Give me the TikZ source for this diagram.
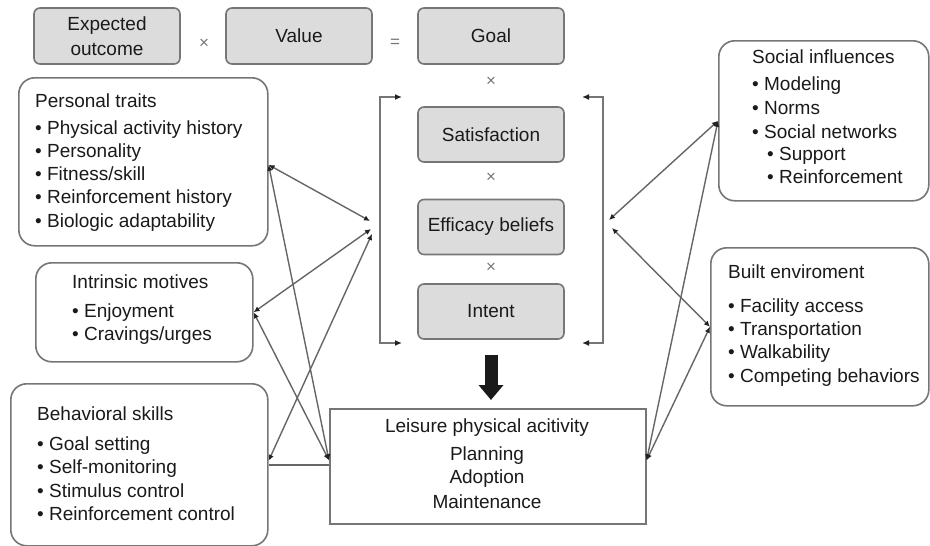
\documentclass[tikz,border=0pt]{standalone}
\usepackage{fontspec}
\setmainfont{Liberation Sans}
\usetikzlibrary{arrows.meta}
\definecolor{edge}{HTML}{767676}
\definecolor{wire}{HTML}{666666}
\definecolor{tipc}{HTML}{222222}
\definecolor{ink}{HTML}{1A1A1A}
\definecolor{shade}{HTML}{DCDCDC}
\definecolor{heavy}{HTML}{1A1A1A}

\begin{document}
\begin{tikzpicture}[x=1pt,y=-1pt,
  every node/.style={text=ink, font=\fontsize{19}{25}\selectfont},
  factorbox/.style={draw=edge, line width=1.6pt, fill=shade, rounded corners=6pt,
    minimum width=146pt, minimum height=55pt, inner sep=0pt, align=center},
  groupbox/.style={draw=edge, line width=1.6pt, rounded corners=16pt, inner sep=0pt,
    anchor=north west},
  plainbox/.style={draw=edge, line width=1.6pt, inner sep=0pt, anchor=north west},
  item/.style={text height=15pt, text depth=4pt, inner sep=0pt, anchor=west},
  centred/.style={text height=15pt, text depth=4pt, inner sep=0pt, anchor=center},
  op/.style={inner sep=0pt, text=edge, font=\fontsize{17}{17}\selectfont},
  link/.style={draw=wire, line width=1.4pt,
    {Latex[length=6pt,width=5.5pt,color=tipc]}-{Latex[length=6pt,width=5.5pt,color=tipc]}},
  bracket/.style={draw=edge, line width=1.6pt,
    {Latex[length=7pt,width=6pt,color=tipc]}-{Latex[length=7pt,width=6pt,color=tipc]}},
  bigarrow/.style={draw=heavy, line width=13pt, -{Triangle[length=15pt,width=24pt]}}
]
\fill[white] (0,0) rectangle (930,546);
\useasboundingbox (0,0) rectangle (930,546);

% expectancy x value = goal
\node[factorbox, minimum height=56pt] (eo) at (107,36) {Expected\\outcome};
\node[op] (m1) at (204,44) {×};
\node[factorbox, minimum height=56pt] (va) at (299,36) {Value};
\node[op] (eq) at (395,43) {=};
\node[factorbox, minimum height=56pt] (go) at (491,36) {Goal};

% central column of multiplied factors
\node[op] (m2) at (491,82) {×};
\node[factorbox] (sa) at (491,134.5) {Satisfaction};
\node[op] (m3) at (491,178) {×};
\node[factorbox] (ef) at (491,227) {Efficacy beliefs};
\node[op] (m4) at (491,268) {×};
\node[factorbox] (in) at (491,311.5) {Intent};

% brackets around the column
\coordinate (lbt) at (380,97);
\coordinate (lbb) at (380,343);
\coordinate (rbt) at (603,97);
\coordinate (rbb) at (603,343);
\draw[bracket] ([xshift=22pt]lbt) -- (lbt) -- (lbb) -- ([xshift=22pt]lbb);
\draw[bracket] ([xshift=-21pt]rbt) -- (rbt) -- (rbb) -- ([xshift=-21pt]rbb);
\coordinate (bl1) at (370,221);
\coordinate (bl2) at (371,229);
\coordinate (bl3) at (372,234);
\coordinate (br1) at (609,220);
\coordinate (br2) at (612,228);

% outcome box
\node[plainbox, minimum width=316pt, minimum height=115pt] (lpa) at (329,408) {};
\node[centred] (lpa0) at (487,427) {Leisure physical acitivity};
\node[centred] (lpa1) at (487,455) {Planning};
\node[centred] (lpa2) at (487,478) {Adoption};
\node[centred] (lpa3) at (487,503) {Maintenance};

\draw[bigarrow] ([yshift=-15pt]in.south) -- ([yshift=8pt]in.south |- lpa.north);

% personal traits
\node[groupbox, minimum width=249pt, minimum height=168pt] (pt) at (18,77) {};
\node[item] (pt0) at (35,102) {Personal traits};
\node[item] (pt1) at (35,129) {• Physical activity history};
\node[item] (pt2) at (35,152) {• Personality};
\node[item] (pt3) at (35,175) {• Fitness/skill};
\node[item] (pt4) at (35,198) {• Reinforcement history};
\node[item] (pt5) at (35,222) {• Biologic adaptability};

% intrinsic motives
\node[groupbox, minimum width=217pt, minimum height=99pt] (im) at (35,262) {};
\node[item] (im0) at (72,283) {Intrinsic motives};
\node[item] (im1) at (72,312) {• Enjoyment};
\node[item] (im2) at (72,335) {• Cravings/urges};

% behavioral skills
\node[groupbox, minimum width=257pt, minimum height=162pt] (bs) at (10,383) {};
\node[item] (bs0) at (37,415) {Behavioral skills};
\node[item] (bs1) at (37,445) {• Goal setting};
\node[item] (bs2) at (37,468) {• Self-monitoring};
\node[item] (bs3) at (37,492) {• Stimulus control};
\node[item] (bs4) at (37,515) {• Reinforcement control};

% social influences
\node[groupbox, minimum width=210pt, minimum height=160pt] (si) at (718,40) {};
\node[item] (si0) at (752,58) {Social influences};
\node[item] (si1) at (752,85) {• Modeling};
\node[item] (si2) at (752,109) {• Norms};
\node[item] (si3) at (752,133) {• Social networks};
\node[item] (si4) at (767,155) {• Support};
\node[item] (si5) at (767,178) {• Reinforcement};

% built environment
\node[groupbox, minimum width=218pt, minimum height=158pt] (be) at (710,247) {};
\node[item] (be0) at (728,273) {Built enviroment};
\node[item] (be1) at (728,307) {• Facility access};
\node[item] (be2) at (728,330) {• Transportation};
\node[item] (be3) at (728,353) {• Walkability};
\node[item] (be4) at (728,377) {• Competing behaviors};

% left-hand links
\draw[link] ([yshift=-3pt]pt.east) -- (bl1);
\draw[link] ([yshift=-3pt]pt.east) -- ([yshift=6pt]lpa.west);
\draw[link] (im.east) -- (bl2);
\draw[link] (im.east) -- ([yshift=6pt]lpa.west);
\draw[link] ([yshift=4pt]bs.east) -- (bl3);
\draw[draw=wire, line width=1.4pt] (bs.east) -- (bs.east -| lpa.west);

% right-hand links
\draw[link] (si.west) -- (br1);
\draw[link] (be.west) -- (br2);
\draw[link] (si.west) -- ([yshift=6pt]lpa.east);
\draw[link] (be.west) -- ([yshift=6pt]lpa.east);
\end{tikzpicture}
\end{document}
